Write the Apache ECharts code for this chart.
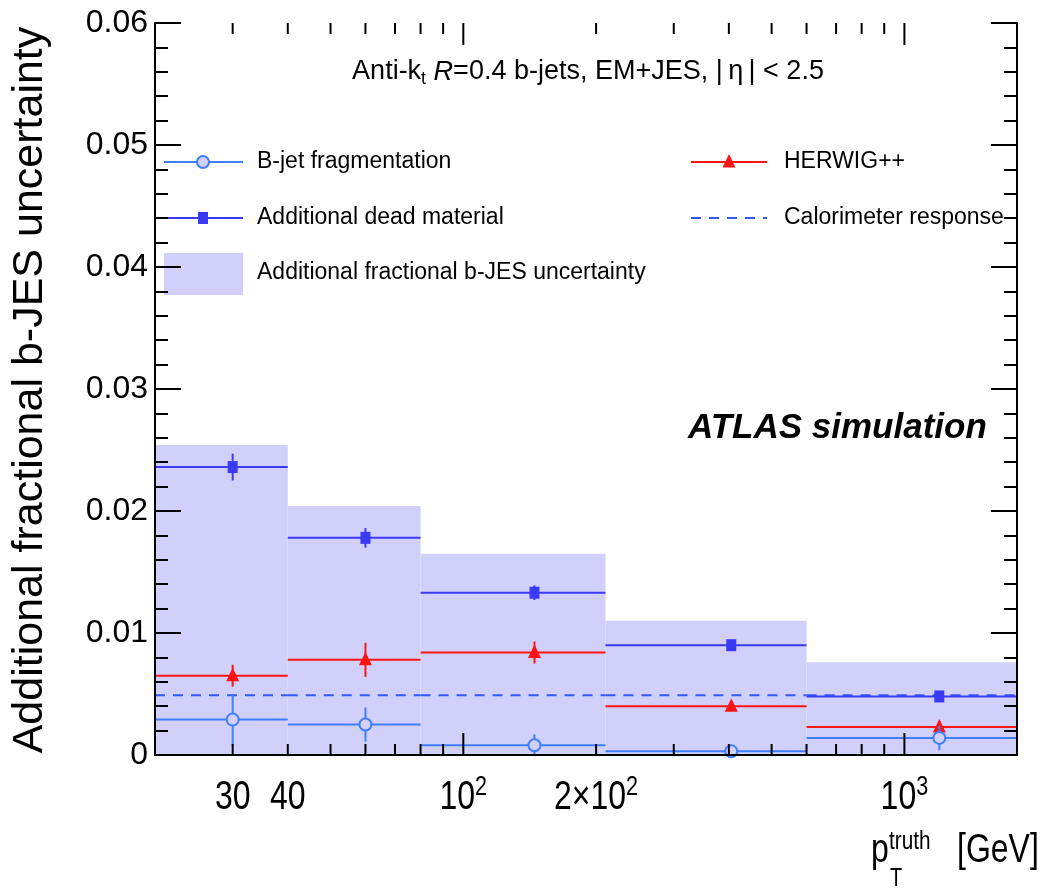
<!DOCTYPE html>
<html>
<head>
<meta charset="utf-8">
<title>Additional fractional b-JES uncertainty</title>
<script src="https://cdn.jsdelivr.net/npm/echarts@6/dist/echarts.min.js"></script>
<style>
  html, body { margin: 0; padding: 0; background: #fff; }
  #chart { width: 1047px; height: 892px; }
</style>
</head>
<body>
<div id="chart"></div>
<script>
// pT bins (GeV) and the point inside each bin where markers sit
const binEdges = [20, 40, 80, 210, 600, 1800];
const binCenters = [30, 60, 145, 405, 1200];

// Total additional fractional b-JES uncertainty (shaded band)
const totalUncertainty = [0.0254, 0.0204, 0.0165, 0.0110, 0.0076];

// Individual components
const fragmentation = [0.0029, 0.0025, 0.0008, 0.0003, 0.0014];
const fragmentationErr = [0.0021, 0.0014, 0.0009, 0.0003, 0.0010];
const deadMaterial = [0.0236, 0.0178, 0.0133, 0.0090, 0.0048];
const deadMaterialErr = [0.0011, 0.0008, 0.0006, 0.0004, 0.0003];
const herwig = [0.0065, 0.0078, 0.0084, 0.0040, 0.0023];
const herwigErr = [0.0009, 0.0014, 0.0009, 0.0004, 0.0005];
const calorimeterResponse = [0.0049, 0.0049, 0.0049, 0.0049, 0.0049];

// Axis ticks
const xMinorTicks = [20, 30, 40, 50, 60, 70, 80, 90, 200, 300, 400, 500, 600, 700, 800, 900];
const xMajorTicks = [100, 1000];
const xLabelValues = [30, 40, 100, 200, 1000];
const xLabelTexts = ['30', '40', '10^2', '2\u00d710^2', '10^3'];

// Legend labels
const legendNames = {
  frag: 'B-jet fragmentation',
  dead: 'Additional dead material',
  band: 'Additional fractional b-JES uncertainty',
  herwig: 'HERWIG++',
  calo: 'Calorimeter response'
};

const REG = '"Liberation Sans", Arial, Helvetica, sans-serif';
const NARROW_SCALE = 0.8;   // horizontal squeeze for the condensed axis lettering

const BAND = '#d0d0fa';
const FRAG_COLOR = '#3f7fff';
const DEAD_COLOR = '#3a3af5';
const RED = '#ff1414';
const CALO_COLOR = '#3358ff';

// ---- marker shapes (shared by plot and legend) ----
function circleMarker(cx, cy) {
  return { type: 'circle', shape: { cx: cx, cy: cy, r: 6 },
    style: { fill: BAND, stroke: FRAG_COLOR, lineWidth: 2 } };
}
function squareMarker(cx, cy) {
  return { type: 'rect', shape: { x: cx - 5, y: cy - 6, width: 10, height: 12 },
    style: { fill: DEAD_COLOR } };
}
function triangleMarker(cx, cy) {
  return { type: 'polygon', shape: { points: [[cx, cy - 8], [cx - 6.5, cy + 5.5], [cx + 6.5, cy + 5.5]] },
    style: { fill: RED } };
}

// Horizontal bin line + vertical error bar + marker
function makeErrorRenderer(color, marker) {
  return function (params, api) {
    const x = api.value(0), y = api.value(1);
    const lo = api.value(2), hi = api.value(3), err = api.value(4);
    const pL = api.coord([lo, y]);
    const pR = api.coord([hi, y]);
    const pC = api.coord([x, y]);
    const pUp = api.coord([x, y + err]);
    const pDn = api.coord([x, Math.max(0, y - err)]);
    return {
      type: 'group',
      children: [
        { type: 'line', shape: { x1: pL[0], y1: pL[1], x2: pR[0], y2: pR[1] },
          style: { stroke: color, lineWidth: 2 } },
        { type: 'line', shape: { x1: pC[0], y1: pUp[1], x2: pC[0], y2: pDn[1] },
          style: { stroke: color, lineWidth: 2 } },
        marker(pC[0], pC[1])
      ]
    };
  };
}

function errorData(vals, errs) {
  return binCenters.map((c, i) => [c, vals[i], binEdges[i], binEdges[i + 1], errs[i]]);
}

function supText(t) {
  const parts = t.split('^');
  return parts.length === 1 ? '{b|' + parts[0] + '}' : '{b|' + parts[0] + '}{s|' + parts[1] + '}';
}

const yMax = 0.06;
function tickData() {
  return xMinorTicks.map(v => [v, 0.03, 11]).concat(xMajorTicks.map(v => [v, 0.03, 22]));
}

// tick marks along the bottom and top frame edges of the plot area
function renderTicks(params, api) {
  const cs = params.coordSys;
  const x = api.coord([api.value(0), 0.03])[0];
  const len = api.value(2);
  const yb = cs.y + cs.height;
  const yt = cs.y;
  return {
    type: 'group',
    children: [
      { type: 'rect', shape: { x: x - 1, y: yb - len, width: 2, height: len }, style: { fill: '#000' } },
      { type: 'rect', shape: { x: x - 1, y: yt, width: 2, height: len }, style: { fill: '#000' } }
    ]
  };
}

const series = [
  {
    // shaded total uncertainty
    type: 'custom', name: legendNames.band, z: 1, silent: true,
    data: binCenters.map((c, i) => [c, totalUncertainty[i], binEdges[i], binEdges[i + 1]]),
    renderItem: function (params, api) {
      const p0 = api.coord([api.value(2), api.value(1)]);
      const p1 = api.coord([api.value(3), 0]);
      return { type: 'rect', shape: { x: p0[0], y: p0[1], width: p1[0] - p0[0], height: p1[1] - p0[1] },
        style: { fill: BAND } };
    }
  },
  {
    // calorimeter response, dashed per bin
    type: 'custom', name: legendNames.calo, z: 3, silent: true,
    data: binCenters.map((c, i) => [c, calorimeterResponse[i], binEdges[i], binEdges[i + 1]]),
    renderItem: function (params, api) {
      const p0 = api.coord([api.value(2), api.value(1)]);
      const p1 = api.coord([api.value(3), api.value(1)]);
      return { type: 'line', shape: { x1: p0[0], y1: p0[1], x2: p1[0], y2: p1[1] },
        style: { stroke: CALO_COLOR, lineWidth: 2, lineDash: [10, 8] } };
    }
  },
  {
    type: 'custom', name: legendNames.dead, z: 4, silent: true,
    data: errorData(deadMaterial, deadMaterialErr),
    renderItem: makeErrorRenderer(DEAD_COLOR, squareMarker)
  },
  {
    type: 'custom', name: legendNames.herwig, z: 5, silent: true,
    data: errorData(herwig, herwigErr),
    renderItem: makeErrorRenderer(RED, triangleMarker)
  },
  {
    type: 'custom', name: legendNames.frag, z: 6, silent: true,
    data: errorData(fragmentation, fragmentationErr),
    renderItem: makeErrorRenderer(FRAG_COLOR, circleMarker)
  },
  { type: 'custom', z: 30, silent: true, data: tickData(), renderItem: renderTicks },
  {
    // log-axis tick labels
    type: 'custom', z: 20, silent: true,
    data: xLabelValues.map((v, i) => [v, 0.03, i]),
    renderItem: function (params, api) {
      const p = api.coord([api.value(0), 0]);
      return {
        type: 'text', x: p[0], y: p[1] + 43, scaleX: NARROW_SCALE,
        style: {
          text: supText(xLabelTexts[api.value(2)]),
          align: 'center', verticalAlign: 'middle',
          rich: {
            b: { fontFamily: REG, fontSize: 40, lineHeight: 48, fill: '#000' },
            s: { fontFamily: REG, fontSize: 27, lineHeight: 14, verticalAlign: 'top', fill: '#000' }
          }
        }
      };
    }
  }
];

// ---- legend, drawn as graphics ----
const legendGraphics = [];
function legendLine(x0, x1, y, color, dash) {
  legendGraphics.push({ type: 'line', shape: { x1: x0, y1: y, x2: x1, y2: y },
    style: { stroke: color, lineWidth: 2, lineDash: dash || null } });
}
function legendText(x, y, text) {
  legendGraphics.push({ type: 'text', x: x, y: y,
    style: { text: text, font: '23px ' + REG, fill: '#000', align: 'left', verticalAlign: 'middle' } });
}
// left column
legendLine(164, 243, 162, FRAG_COLOR);
legendGraphics.push(circleMarker(203, 162));
legendText(257, 162, legendNames.frag);
legendLine(164, 243, 218, DEAD_COLOR);
legendGraphics.push(squareMarker(203, 218));
legendText(257, 218, legendNames.dead);
legendGraphics.push({ type: 'rect', shape: { x: 164, y: 253, width: 79, height: 42 }, style: { fill: BAND } });
legendText(257, 273, legendNames.band);
// right column
legendLine(691, 767, 162, RED);
legendGraphics.push(triangleMarker(729, 162));
legendText(784, 162, legendNames.herwig);
legendLine(691, 767, 218, CALO_COLOR, [10, 8]);
legendText(784, 218, legendNames.calo);

function axisTitlePiece(x, y, text, size) {
  return { type: 'text', x: x, y: y, scaleX: NARROW_SCALE,
    style: { text: text, font: size + 'px ' + REG, fill: '#000', align: 'left', verticalAlign: 'middle' } };
}

const textGraphics = [
  {
    type: 'text', x: 588, y: 72,
    style: {
      text: '{n|Anti-k}{sub|t}{n| }{it|R}{n|=0.4 b-jets, EM+JES, |\u2009\u03b7\u2009| < 2.5}',
      align: 'center', verticalAlign: 'middle',
      rich: {
        n: { fontFamily: REG, fontSize: 27, lineHeight: 32, fill: '#000' },
        it: { fontFamily: REG, fontSize: 27, fontStyle: 'italic', lineHeight: 32, fill: '#000' },
        sub: { fontFamily: REG, fontSize: 18, lineHeight: 14, verticalAlign: 'bottom', fill: '#000' }
      }
    }
  },
  {
    type: 'text', x: 688, y: 428,
    style: { text: 'ATLAS simulation', font: 'italic bold 35px ' + REG, fill: '#000',
      align: 'left', verticalAlign: 'middle' }
  },
  {
    type: 'text', x: 30, y: 390, rotation: Math.PI / 2,
    style: { text: 'Additional fractional b-JES uncertainty', font: '43px ' + REG, fill: '#000',
      align: 'center', verticalAlign: 'middle' }
  },
  axisTitlePiece(871, 851, 'p', 40),
  axisTitlePiece(889, 842, 'truth', 26),
  axisTitlePiece(890, 879, 'T', 25),
  axisTitlePiece(957, 851, '[GeV]', 40)
];

const frameLine = { show: true, lineStyle: { color: '#000', width: 2 } };

const xAxisBase = {
  type: 'log', logBase: 10, min: binEdges[0], max: binEdges[binEdges.length - 1],
  axisLine: frameLine, axisTick: { show: false }, axisLabel: { show: false },
  splitLine: { show: false }, minorTick: { show: false }, z: 10
};
const yAxisBase = {
  type: 'value', min: 0, max: yMax, interval: 0.01,
  axisLine: frameLine,
  axisTick: { show: true, inside: true, length: 26, lineStyle: { color: '#000', width: 2 } },
  minorTick: { show: true, splitNumber: 5, length: 13, lineStyle: { color: '#000', width: 2 } },
  splitLine: { show: false }, minorSplitLine: { show: false }, z: 10
};

const option = {
  animation: false,
  backgroundColor: '#fff',
  grid: { left: 155, right: 30, top: 23, bottom: 137, containLabel: false },
  xAxis: [
    Object.assign({}, xAxisBase, { position: 'bottom' }),
    Object.assign({}, xAxisBase, { position: 'top' })
  ],
  yAxis: [
    Object.assign({}, yAxisBase, {
      position: 'left',
      axisLabel: { show: true, fontSize: 32, fontFamily: REG, color: '#000', margin: 7 }
    }),
    Object.assign({}, yAxisBase, { position: 'right', axisLabel: { show: false } })
  ],
  series: series,
  graphic: { elements: legendGraphics.concat(textGraphics) }
};

const chart = echarts.init(document.getElementById('chart'), null, { renderer: 'canvas' });
chart.setOption(option);
</script>
</body>
</html>
